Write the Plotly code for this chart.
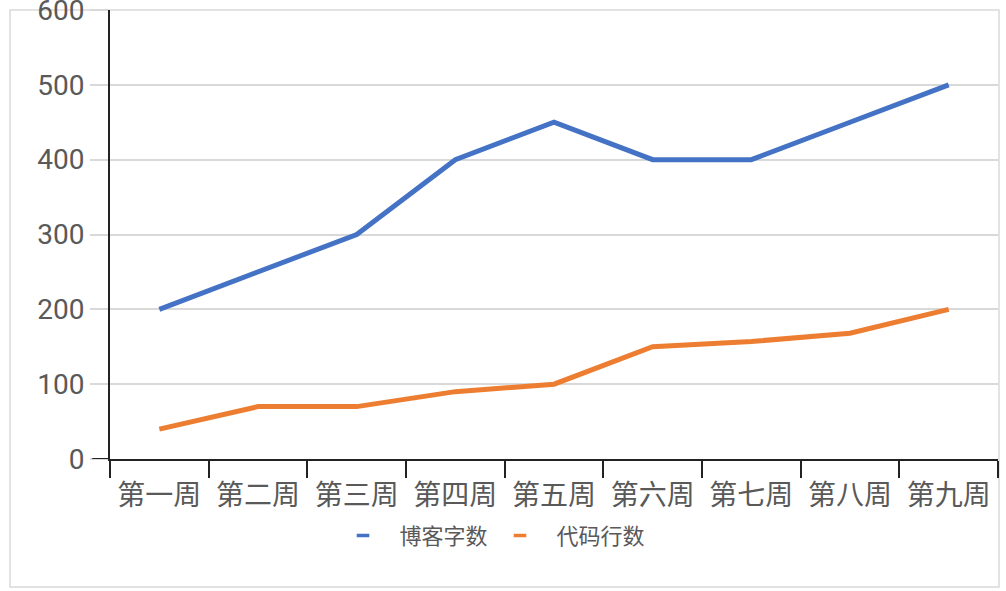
import plotly.graph_objects as go

weeks = ["第一周", "第二周", "第三周", "第四周", "第五周", "第六周", "第七周", "第八周", "第九周"]
blog_words = [200, 250, 300, 400, 450, 400, 400, 450, 500]
code_lines = [40, 70, 70, 90, 100, 150, 157, 168, 200]
series_names = ["博客字数", "代码行数"]
colors = ["#4472C4", "#ED7D31"]
y_ticks = [0, 100, 200, 300, 400, 500, 600]

FONT = "Roboto, Noto Sans CJK SC, sans-serif"
GRAY = "#595959"
GRID = "#d9d9d9"
PAD = "\u00a0\u00a0\u00a0"

fig = go.Figure()
for name, vals, c in zip(series_names, [blog_words, code_lines], colors):
    fig.add_trace(go.Scatter(x=weeks, y=vals, mode="lines", name=name,
                             line=dict(color=c, width=5), showlegend=False))
# legend entries with short dash symbols
for name, c in zip(series_names, colors):
    fig.add_trace(go.Scatter(x=[None], y=[None], mode="markers", name=PAD + name,
                             marker=dict(symbol="line-ew", size=9,
                                         line=dict(color=c, width=3.5)),
                             showlegend=True))

fig.update_layout(
    width=1006, height=591,
    margin=dict(l=110, r=8, t=10, b=132, autoexpand=False),
    paper_bgcolor="white", plot_bgcolor="white",
    font=dict(family=FONT, color=GRAY),
    showlegend=True,
    legend=dict(orientation="h", x=0.2624, xanchor="left", y=-0.171, yanchor="middle",
                font=dict(size=22, color=GRAY), itemwidth=30,
                entrywidth=112, entrywidthmode="pixels",
                bgcolor="rgba(0,0,0,0)"),
    shapes=[
        dict(type="rect", xref="paper", yref="paper", x0=-0.1126, x1=1.0011, y0=-0.285, y1=1,
             line=dict(color=GRID, width=1.5), layer="below"),
        dict(type="line", xref="paper", yref="y", x0=-0.02, x1=0, y0=0, y1=0,
             line=dict(color="#222222", width=2)),
    ],
)
fig.update_xaxes(type="category", range=[-0.5, 8.5], showgrid=False, automargin=False,
                 showline=True, linecolor="#222222", linewidth=2,
                 ticks="outside", tickson="boundaries", ticklen=17, tickwidth=2,
                 tickcolor="#222222", ticklabelstandoff=10,
                 tickfont=dict(size=28, color=GRAY, family="Noto Sans CJK SC, sans-serif"))
fig.update_yaxes(range=[0, 600], tickmode="array", tickvals=y_ticks, automargin=False,
                 ticklabeloverflow="allow",
                 showgrid=True, gridcolor=GRID, gridwidth=1.5,
                 showline=True, linecolor="#222222", linewidth=2, zeroline=False,
                 ticks="outside", ticklen=18, tickwidth=1.5, tickcolor=GRID,
                 tickfont=dict(size=28, color=GRAY))

fig.write_html("out.html", config={"displayModeBar": False},
               post_script="document.body.style.margin='0px';document.body.style.overflow='hidden';")
